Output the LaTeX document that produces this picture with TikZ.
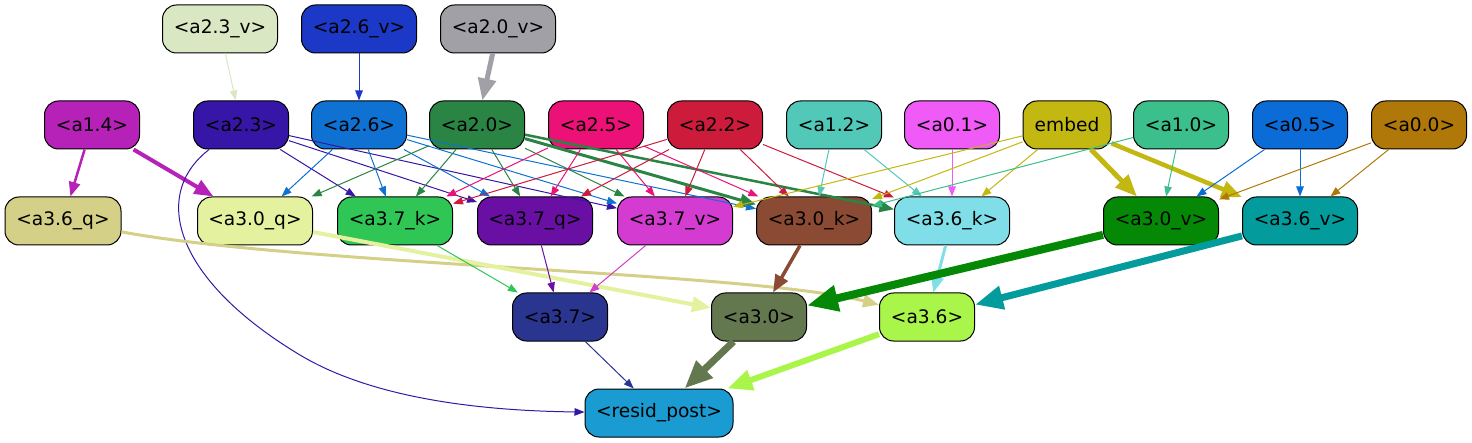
\documentclass[tikz,border=0pt]{standalone}
\usepackage{fontspec}
\setmainfont{DejaVu Sans}
\usetikzlibrary{arrows.meta}

\definecolor{ca23v}{HTML}{D9E8C3}
\definecolor{ca26v}{HTML}{1B39C6}
\definecolor{ca20v}{HTML}{A0A0A6}
\definecolor{ca14}{HTML}{B622B8}
\definecolor{ca23}{HTML}{3616A6}
\definecolor{ca26}{HTML}{0F71D1}
\definecolor{ca20}{HTML}{2A8443}
\definecolor{ca25}{HTML}{EC1176}
\definecolor{ca22}{HTML}{CD1B3B}
\definecolor{ca12}{HTML}{52C8B9}
\definecolor{ca01}{HTML}{F05AF6}
\definecolor{cemb}{HTML}{C3B711}
\definecolor{ca10}{HTML}{3BBF8B}
\definecolor{ca05}{HTML}{0B6BD7}
\definecolor{ca00}{HTML}{B07808}
\definecolor{cq36}{HTML}{D4D087}
\definecolor{cq30}{HTML}{E4F19F}
\definecolor{ck37}{HTML}{2FC655}
\definecolor{cq37}{HTML}{6A0FA3}
\definecolor{cv37}{HTML}{D43BD0}
\definecolor{ck30}{HTML}{8A4A33}
\definecolor{ck36}{HTML}{80DEE8}
\definecolor{cv30}{HTML}{058805}
\definecolor{cv36}{HTML}{039B9B}
\definecolor{cr37}{HTML}{2A3590}
\definecolor{cr30}{HTML}{647850}
\definecolor{cr36}{HTML}{AAF54A}
\definecolor{cres}{HTML}{1A9BD1}

\tikzset{
  box/.style={draw=black, line width=0.5pt, rounded corners=7pt, minimum height=24pt,
    inner sep=0pt, font=\fontsize{9.3}{11}\selectfont},
  small/.style={box, minimum width=47.5pt},
  wide/.style={box, minimum width=57.5pt},
  link/.style={line width=0.5pt, -{Triangle[length=3.5pt 3, width=2.5pt 2.5]}},
}

\begin{document}
\begin{tikzpicture}[x=0.5pt, y=-0.5pt]
    \useasboundingbox (0,0) rectangle (1472,443);

    % Value inputs on top
    \node[wide, fill=ca23v] (v23) at (220,29) {<a2.3\_v>};
    \node[wide, fill=ca26v] (v26) at (359,29) {<a2.6\_v>};
    \node[wide, fill=ca20v] (v20) at (498,29) {<a2.0\_v>};

    % Second row of sources
    \node[small, fill=ca14] (a14) at (92,125) {<a1.4>};
    \node[small, fill=ca23] (a23) at (241,125) {<a2.3>};
    \node[small, fill=ca26] (a26) at (359,125) {<a2.6>};
    \node[small, fill=ca20] (a20) at (477,125) {<a2.0>};
    \node[small, fill=ca25] (a25) at (596,125) {<a2.5>};
    \node[small, fill=ca22] (a22) at (715,125) {<a2.2>};
    \node[small, fill=ca12] (a12) at (834,125) {<a1.2>};
    \node[small, fill=ca01] (a01) at (952,125) {<a0.1>};
    \node[box, minimum width=44pt, fill=cemb] (emb) at (1067,125) {embed};
    \node[small, fill=ca10] (a10) at (1181,125) {<a1.0>};
    \node[small, fill=ca05] (a05) at (1300,125) {<a0.5>};
    \node[small, fill=ca00] (a00) at (1419,125) {<a0.0>};

    % Queries, keys and values of layer 3
    \node[wide, minimum width=58pt, fill=cq36] (q36) at (63,221) {<a3.6\_q>};
    \node[wide, fill=cq30] (q30) at (255,221) {<a3.0\_q>};
    \node[wide, fill=ck37] (k37) at (395,221) {<a3.7\_k>};
    \node[wide, fill=cq37] (q37) at (535,221) {<a3.7\_q>};
    \node[wide, fill=cv37] (v37) at (675,221) {<a3.7\_v>};
    \node[wide, fill=ck30] (k30) at (814,221) {<a3.0\_k>};
    \node[wide, fill=ck36] (k36) at (952,221) {<a3.6\_k>};
    \node[wide, fill=cv30] (v30) at (1161,221) {<a3.0\_v>};
    \node[wide, fill=cv36] (v36) at (1300,221) {<a3.6\_v>};

    % Heads and output
    \node[small, fill=cr37] (r37) at (560,317) {<a3.7>};
    \node[small, fill=cr30] (r30) at (759,317) {<a3.0>};
    \node[small, fill=cr36] (r36) at (927,317) {<a3.6>};
    \node[box, minimum width=74pt, fill=cres] (res) at (659,413) {<resid\_post>};

    % Top arrows
    \draw[link, ca23v] (v23) -- (a23);
    \draw[link, ca26v] (v26) -- (a26);
    \draw[link, ca20v, line width=2.5pt] (v20) -- (a20);

    % From a1.4, a2.3, a2.6, a2.0
    \draw[link, ca14, line width=1.25pt] (a14) -- (q36);
    \draw[link, ca14, line width=2pt] (a14) -- (q30);
    \draw[link, ca23] (a23) -- (k37);
    \draw[link, ca23] (a23) -- (q37);
    \draw[link, ca23] (a23) -- (v37);
    \draw[link, ca23] (a23) .. controls (150,195) and (175,280) .. (300,355)
        .. controls (380,403) and (500,411) .. (res);
    \draw[link, ca26] (a26) -- (q30);
    \draw[link, ca26] (a26) -- (k37);
    \draw[link, ca26] (a26) -- (q37);
    \draw[link, ca26] (a26) -- (v37);
    \draw[link, ca26] (a26) -- (k30);
    \draw[link, ca20] (a20) -- (q30);
    \draw[link, ca20] (a20) -- (k37);
    \draw[link, ca20] (a20) -- (q37);
    \draw[link, ca20] (a20) -- (v37);
    \draw[link, ca20, line width=1.5pt] (a20) -- (k30);
    \draw[link, ca20, line width=1.25pt] (a20) -- (k36);

    % From a2.5, a2.2, a1.2, a0.1
    \draw[link, ca25] (a25) -- (k37);
    \draw[link, ca25] (a25) -- (q37);
    \draw[link, ca25] (a25) -- (v37);
    \draw[link, ca25] (a25) -- (k30);
    \draw[link, ca22] (a22) -- (k37);
    \draw[link, ca22] (a22) -- (q37);
    \draw[link, ca22] (a22) -- (v37);
    \draw[link, ca22] (a22) -- (k30);
    \draw[link, ca22] (a22) -- (k36);
    \draw[link, ca12] (a12) -- (k30);
    \draw[link, ca12] (a12) -- (k36);
    \draw[link, ca01] (a01) -- (k36);

    % From embed and the right-hand sources
    \draw[link, cemb] (emb) -- (v37);
    \draw[link, cemb] (emb) -- (k30);
    \draw[link, cemb] (emb) -- (k36);
    \draw[link, cemb, line width=2.5pt] (emb) -- (v30);
    \draw[link, cemb, line width=2.25pt] (emb) -- (v36);
    \draw[link, ca10] (a10) -- (k30);
    \draw[link, ca10] (a10) -- (v30);
    \draw[link, ca05] (a05) -- (v30);
    \draw[link, ca05] (a05) -- (v36);
    \draw[link, ca00] (a00) -- (v30);
    \draw[link, ca00] (a00) -- (v36);

    % Layer 3 into heads
    \draw[link, cq36, line width=1.5pt] (q36) .. controls (300,265) and (750,272) .. (r36);
    \draw[link, cq30, line width=2pt] (q30) -- (r30);
    \draw[link, ck37] (k37) -- (r37);
    \draw[link, cq37] (q37) -- (r37);
    \draw[link, cv37] (v37) -- (r37);
    \draw[link, ck30, line width=1.75pt] (k30) -- (r30);
    \draw[link, ck36, line width=1.5pt] (k36) -- (r36);
    \draw[link, cv30, line width=4pt] (v30) -- (r30);
    \draw[link, cv36, line width=3.5pt] (v36) -- (r36);

    % Heads into output
    \draw[link, cr37] (r37) -- (res);
    \draw[link, cr30, line width=3.5pt] (r30) -- (res);
    \draw[link, cr36, line width=3pt] (r36) -- (res);
\end{tikzpicture}
\end{document}
